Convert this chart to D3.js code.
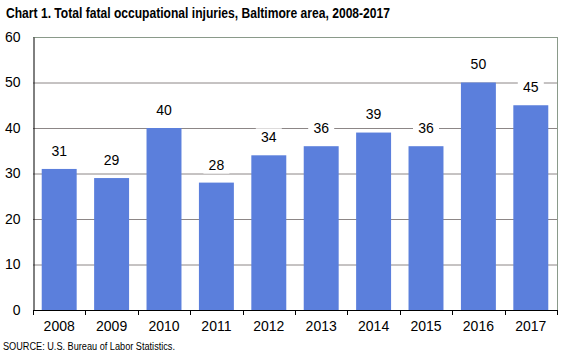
<!DOCTYPE html>
<html><head><meta charset="utf-8">
<script src="https://cdn.jsdelivr.net/npm/d3@7"></script>
<style>body{margin:0;background:#fff}svg{display:block;font-family:Arial,"Liberation Sans",sans-serif}</style>
</head><body><svg id="c" width="563" height="357"></svg>
<script>
const years = ["2008","2009","2010","2011","2012","2013","2014","2015","2016","2017"];
const values = [31,29,40,28,34,36,39,36,50,45];
const yTicks = [0,10,20,30,40,50,60];
const title = "Chart 1. Total fatal occupational injuries, Baltimore area, 2008-2017";
const source = "SOURCE: U.S. Bureau of Labor Statistics.";

const svg = d3.select("#c");
const L=33, R=557, T=37, B=310;
const x = d3.scaleBand().domain(years).range([L,R]).paddingInner(0.333).paddingOuter(0.1665);
const y = d3.scaleLinear().domain([0,60]).range([B,T]);

svg.append("text").attr("x",6).attr("y",18).attr("font-size",14).attr("font-weight","bold").attr("fill","#000")
  .attr("textLength",384).attr("lengthAdjust","spacingAndGlyphs").text(title);

// grid
svg.append("g").selectAll("line").data(yTicks.filter(d=>d>0 && d<60)).join("line")
  .attr("x1",L).attr("x2",R).attr("y1",d=>y(d)+0.5).attr("y2",d=>y(d)+0.5)
  .attr("stroke","#8c8686").attr("stroke-width",1);
// top and right border
svg.append("line").attr("x1",L).attr("x2",R).attr("y1",T+0.5).attr("y2",T+0.5).attr("stroke","#8a9a8a");
svg.append("line").attr("x1",R+0.5).attr("x2",R+0.5).attr("y1",T).attr("y2",B).attr("stroke","#8a9a8a");

// bars
svg.append("g").selectAll("rect").data(values).join("rect")
  .attr("x",(d,i)=>x(years[i])).attr("width",x.bandwidth())
  .attr("y",d=>y(d)).attr("height",d=>B-y(d)).attr("fill","#5b7fdc");

// labels
const lg = svg.append("g").selectAll("g").data(values).join("g")
  .attr("transform",(d,i)=>`translate(${x(years[i])+x.bandwidth()/2},${y(d)-18})`);
lg.append("rect").attr("x",-13).attr("y",-9).attr("width",26).attr("height",18).attr("fill","#fff");
lg.append("text").attr("text-anchor","middle").attr("dy","0.35em").attr("font-size",14).attr("fill","#000").text(d=>d);

// y axis
const ya = svg.append("g").attr("transform",`translate(${L+0.5},0)`)
  .call(d3.axisLeft(y).tickValues(yTicks).tickSize(0).tickPadding(13));
ya.select(".domain").attr("stroke","#000");
ya.selectAll("text").attr("font-size",14).attr("fill","#000").attr("font-family","Arial, 'Liberation Sans', sans-serif");

// x axis
const xa = svg.append("g").attr("transform",`translate(0,${B+0.5})`)
  .call(d3.axisBottom(x).tickSize(0).tickPadding(11));
xa.select(".domain").attr("stroke","#000").attr("d",`M${L},0H${R}`);
xa.selectAll("text").attr("font-size",14).attr("fill","#000").attr("font-family","Arial, 'Liberation Sans', sans-serif");
const step = x.step();
svg.append("g").selectAll("line").data(d3.range(years.length+1)).join("line")
  .attr("x1",d=>Math.round(L+d*step)+0.5).attr("x2",d=>Math.round(L+d*step)+0.5)
  .attr("y1",B).attr("y2",B+5).attr("stroke","#000");

svg.append("text").attr("x",3).attr("y",350).attr("font-size",10).attr("fill","#000")
  .attr("textLength",172).attr("lengthAdjust","spacingAndGlyphs").text(source);
</script></body></html>
